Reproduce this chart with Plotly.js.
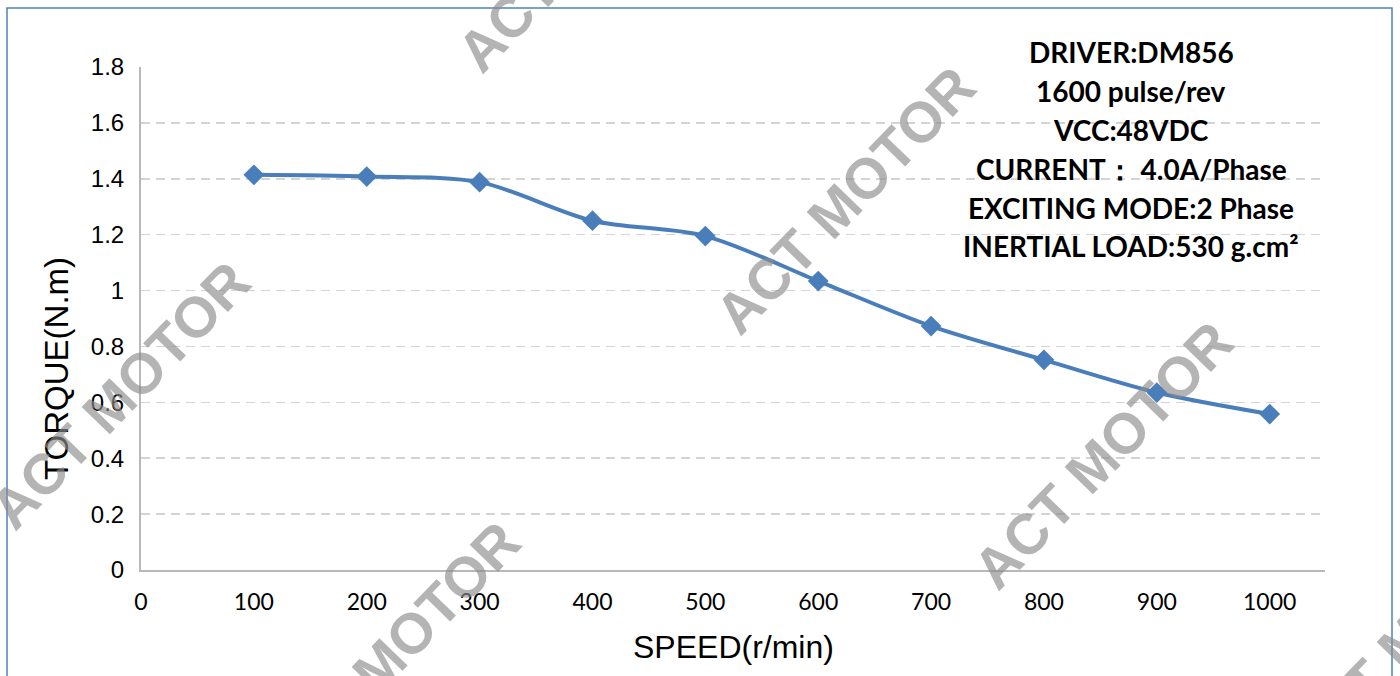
<!DOCTYPE html>
<html>
<head>
<meta charset="utf-8">
<script src="https://cdn.plot.ly/plotly-3.0.1.min.js"></script>
<style>
html,body{margin:0;padding:0;background:#fff;}
#chart{width:1400px;height:676px;}
</style>
</head>
<body>
<div id="chart"></div>
<script>
const speed = [100, 200, 300, 400, 500, 600, 700, 800, 900, 1000];
const torque = [1.414, 1.408, 1.388, 1.25, 1.195, 1.034, 0.873, 0.752, 0.635, 0.558];
const xTicks = [0, 100, 200, 300, 400, 500, 600, 700, 800, 900, 1000];
const yTicks = [0, 0.2, 0.4, 0.6, 0.8, 1, 1.2, 1.4, 1.6, 1.8];
const yTickLabels = ["0", "0.2", "0.4", "0.6", "0.8", "1", "1.2", "1.4", "1.6", "1.8"];
const infoLines = ["DRIVER:DM856", "1600 pulse/rev", "VCC:48VDC", "CURRENT\uFF1A 4.0A/Phase", "EXCITING MODE:2 Phase", "INERTIAL LOAD:530 g.cm\u00B2"];
const watermarkText = "ACT MOTOR";

// plot area: left 141, right 1325, top 67, bottom 570 (px)
const L = 141, R = 1325, T = 67, B = 570;
const px = v => (v - L) / (R - L);
const py = v => (B - v) / (B - T);

const annotations = [];
// info block
const lineY = [52, 91, 130, 169, 208, 246];
infoLines.forEach((t, i) => {
  annotations.push({
    text: t, xref: 'paper', yref: 'paper', x: px(1131), y: py(lineY[i]),
    xanchor: 'center', yanchor: 'middle', showarrow: false,
    font: {family: 'Lato, "Open Sans", sans-serif', size: 28, color: '#000', weight: 'bold'}
  });
});
// axis titles
annotations.push({
  text: 'SPEED(r/min)', xref: 'paper', yref: 'paper', x: px(733), y: py(647),
  xanchor: 'center', yanchor: 'middle', showarrow: false,
  font: {family: '"Liberation Sans", Arial, sans-serif', size: 32, color: '#000'}
});
annotations.push({
  text: 'TORQUE(N.m)', xref: 'paper', yref: 'paper', x: px(56), y: py(369),
  xanchor: 'center', yanchor: 'middle', showarrow: false, textangle: -90,
  font: {family: '"Liberation Sans", Arial, sans-serif', size: 33, color: '#000'}
});
// watermarks
const wm = [[845, 200], [120, 395], [1103, 455], [390, 655], [587, -62], [1415, 630]];
wm.forEach(p => {
  annotations.push({
    text: watermarkText, xref: 'paper', yref: 'paper', x: px(p[0]), y: py(p[1]),
    xanchor: 'center', yanchor: 'middle', showarrow: false, textangle: -46,
    font: {family: '"Liberation Sans", Arial, sans-serif', size: 57, color: 'rgba(140,140,140,0.65)', weight: 'bold'}
  });
});

const trace = {
  x: speed, y: torque, type: 'scatter', mode: 'lines+markers',
  line: {color: '#4a7ebb', width: 4, shape: 'spline', smoothing: 0.9},
  marker: {symbol: 'diamond', size: 16, color: '#4a7ebb'},
  hoverinfo: 'x+y'
};

const layout = {
  width: 1400, height: 676,
  margin: {l: L, r: 1400 - R, t: T, b: 676 - B, pad: 0},
  paper_bgcolor: '#fff', plot_bgcolor: '#fff',
  showlegend: false,
  xaxis: {
    range: [0, 1049], tickvals: xTicks, ticktext: xTicks.map(String),
    showgrid: false, zeroline: false,
    showline: true, linecolor: '#b8b8b8', linewidth: 2,
    ticks: 'outside', ticklen: 0, ticklabelstandoff: 10,
    tickfont: {family: 'Lato, "Open Sans", sans-serif', size: 23, color: '#000'}
  },
  yaxis: {
    range: [0, 1.8], tickvals: yTicks, ticktext: yTickLabels,
    showgrid: true, gridcolor: '#d4d4d4', gridwidth: 1.5, griddash: '9px,6px',
    zeroline: false,
    showline: true, linecolor: '#b8b8b8', linewidth: 2,
    ticks: 'outside', ticklen: 0, ticklabelstandoff: 10,
    tickfont: {family: '"Liberation Sans", Arial, sans-serif', size: 24, color: '#000'}
  },
  shapes: [{
    type: 'rect', xref: 'paper', yref: 'paper',
    x0: px(7), x1: px(1392), y0: py(700), y1: py(8),
    line: {color: '#4f81bd', width: 1.5}, fillcolor: 'rgba(0,0,0,0)', layer: 'below'
  }],
  annotations: annotations
};

Plotly.newPlot('chart', [trace], layout, {displayModeBar: false, staticPlot: true});
</script>
</body>
</html>
